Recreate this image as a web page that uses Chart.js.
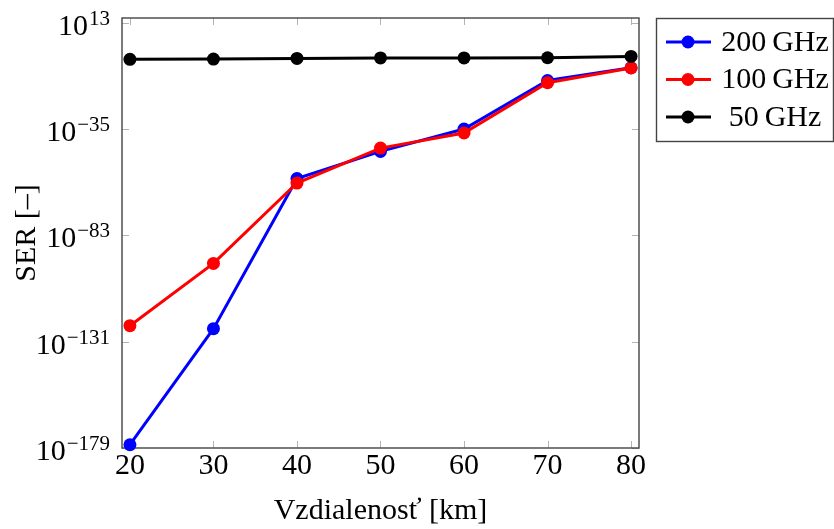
<!DOCTYPE html>
<html>
<head>
<meta charset="utf-8">
<script src="https://cdn.jsdelivr.net/npm/chart.js@4.4.1/dist/chart.umd.min.js"></script>
<style>
  html, body { margin: 0; padding: 0; background: #fff; }
  canvas { display: block; }
</style>
</head>
<body>
<canvas id="ser-chart" width="834" height="529"></canvas>
<script>
// --- 1. DATA ---
const distancesKm = [20, 30, 40, 50, 60, 70, 80];
const ser200GHz = [3e-178, 8e-126, 5e-58, 1e-45, 1.3e-35, 1e-13, 6e-8];
const ser100GHz = [1.8e-124, 2.5e-96, 5e-60, 3e-44, 2e-37, 1e-14, 5e-8];
const ser50GHz = [4e-4, 5e-4, 1e-3, 1.6e-3, 1.6e-3, 2e-3, 8e-3];
const seriesLabels = ['200\u2009GHz', '100\u2009GHz', '50\u2009GHz'];
const xTicks = [20, 30, 40, 50, 60, 70, 80];
const yTickExponents = [-179, -131, -83, -35, 13];

// --- 2. CONFIG ---
const CONFIG = {
    FONT: '"Liberation Serif", "Times New Roman", serif',
    FRAME: '#444444',
    TICK: '#b4b4b4',
    COLORS: ['#0000ff', '#ff0000', '#000000']
};

const toPoints = (ys) => distancesKm.map((x, i) => ({ x, y: ys[i] }));

// --- 3. PLUGIN: pgfplots-like frame, inner ticks, 10^n labels, boxed legend ---
const pgfDecor = {
    id: 'pgfDecor',
    beforeDatasetsDraw(chart) {
        const { ctx, chartArea: a, scales: { x, y } } = chart;
        ctx.save();
        // inner tick marks
        ctx.strokeStyle = CONFIG.TICK;
        ctx.lineWidth = 1;
        const len = 7;
        ctx.beginPath();
        xTicks.forEach(v => {
            const px = Math.round(x.getPixelForValue(v)) + 0.5;
            ctx.moveTo(px, a.bottom); ctx.lineTo(px, a.bottom - len);
            ctx.moveTo(px, a.top); ctx.lineTo(px, a.top + len);
        });
        yTickExponents.forEach(e => {
            const py = Math.round(y.getPixelForValue(Number('1e' + e))) + 0.5;
            ctx.moveTo(a.left, py); ctx.lineTo(a.left + len, py);
            ctx.moveTo(a.right, py); ctx.lineTo(a.right - len, py);
        });
        ctx.stroke();
        // frame
        ctx.strokeStyle = CONFIG.FRAME;
        ctx.lineWidth = 1.4;
        ctx.strokeRect(a.left, a.top, a.right - a.left, a.bottom - a.top);

        // y tick labels as 10 with superscript exponent
        ctx.fillStyle = '#000';
        ctx.textBaseline = 'alphabetic';
        yTickExponents.forEach(e => {
            const py = y.getPixelForValue(Number('1e' + e));
            const exp = e < 0 ? '\u2212' + Math.abs(e) : String(e);
            ctx.font = '21px ' + CONFIG.FONT;
            const expW = ctx.measureText(exp).width;
            const right = a.left - 12;
            ctx.textAlign = 'right';
            ctx.fillText(exp, right, py + 2);
            ctx.font = '30px ' + CONFIG.FONT;
            ctx.fillText('10', right - expW - 1, py + 12);
        });
        ctx.restore();
    },
    afterDraw(chart) {
        const { ctx } = chart;
        const box = { left: 656, top: 18, width: 177, height: 123 };
        ctx.save();
        ctx.fillStyle = '#fff';
        ctx.fillRect(box.left, box.top, box.width, box.height);
        ctx.strokeStyle = CONFIG.FRAME;
        ctx.lineWidth = 1.4;
        ctx.strokeRect(box.left + 0.5, box.top + 0.5, box.width, box.height);
        chart.data.datasets.forEach((ds, i) => {
            const cy = 42 + i * 37.5;
            ctx.strokeStyle = ds.borderColor;
            ctx.lineWidth = 3;
            ctx.beginPath();
            ctx.moveTo(666, cy); ctx.lineTo(711, cy);
            ctx.stroke();
            ctx.fillStyle = ds.borderColor;
            ctx.beginPath();
            ctx.arc(688, cy, 6.5, 0, Math.PI * 2);
            ctx.fill();
            ctx.fillStyle = '#000';
            ctx.font = '30px ' + CONFIG.FONT;
            ctx.textAlign = 'center';
            ctx.textBaseline = 'middle';
            ctx.fillText(ds.label, 775, cy + 1);
        });
        ctx.restore();
    }
};

// --- 4. CHART ---
const makeDataset = (label, ys, color, order) => ({
    label,
    data: toPoints(ys),
    borderColor: color,
    backgroundColor: color,
    borderWidth: 3,
    pointRadius: 6.5,
    pointBorderWidth: 0,
    pointBackgroundColor: color,
    tension: 0,
    clip: false,
    order
});

new Chart(document.getElementById('ser-chart'), {
    type: 'line',
    data: {
        datasets: [
            makeDataset(seriesLabels[0], ser200GHz, CONFIG.COLORS[0], 3),
            makeDataset(seriesLabels[1], ser100GHz, CONFIG.COLORS[1], 2),
            makeDataset(seriesLabels[2], ser50GHz, CONFIG.COLORS[2], 1)
        ]
    },
    options: {
        responsive: false,
        animation: false,
        devicePixelRatio: 1,
        layout: { padding: { top: 18, right: 195, left: 0, bottom: 0 } },
        plugins: { legend: { display: false }, tooltip: { enabled: false } },
        scales: {
            x: {
                type: 'linear',
                min: 19.05,
                max: 80.95,
                afterBuildTicks: (s) => { s.ticks = xTicks.map(v => ({ value: v })); },
                afterFit: (s) => { s.height = 81; },
                grid: { display: false, drawTicks: false },
                border: { display: false },
                ticks: {
                    color: '#000',
                    padding: 0,
                    maxRotation: 0,
                    font: { family: CONFIG.FONT, size: 30 }
                },
                title: {
                    display: true,
                    text: 'Vzdialenosť [km]',
                    color: '#000',
                    padding: { top: 0, bottom: 0 },
                    font: { family: CONFIG.FONT, size: 30 }
                }
            },
            y: {
                type: 'logarithmic',
                min: 1e-179,
                max: 1.8e15,
                afterFit: (s) => { s.width = 122; },
                grid: { display: false, drawTicks: false },
                border: { display: false },
                ticks: { display: false },
                title: {
                    display: true,
                    text: 'SER [\u2013]',
                    color: '#000',
                    padding: { top: 9, bottom: 0 },
                    font: { family: CONFIG.FONT, size: 30 }
                }
            }
        }
    },
    plugins: [pgfDecor]
});
</script>
</body>
</html>
